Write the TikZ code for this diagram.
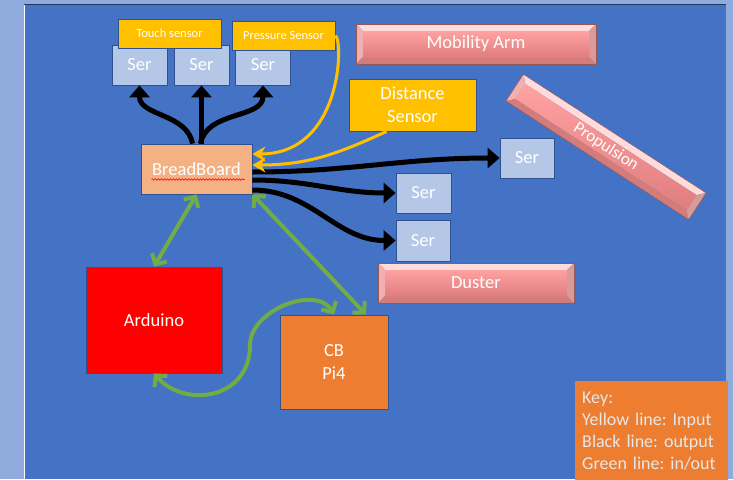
\documentclass[tikz,border=0pt]{standalone}
\usepackage{fontspec}
\setmainfont{Carlito}
\frenchspacing
\usetikzlibrary{arrows.meta,decorations.pathmorphing}

\definecolor{slide}{HTML}{4472C4}
\definecolor{outer}{HTML}{8FAADC}
\definecolor{serfill}{HTML}{B4C7E7}
\definecolor{edge}{HTML}{2F528F}
\definecolor{sensorfill}{HTML}{FFC000}
\definecolor{boardfill}{HTML}{F4B183}
\definecolor{orangefill}{HTML}{ED7D31}
\definecolor{iogreen}{HTML}{70AD47}
\definecolor{bevtop}{HTML}{FFDCDC}
\definecolor{bevside}{HTML}{F2AFAF}
\definecolor{bevlow}{HTML}{D27C7C}
\definecolor{bevright}{HTML}{D99A9A}
\definecolor{faceup}{HTML}{FFA2A2}
\definecolor{facelow}{HTML}{E07E7E}
\definecolor{keytext}{HTML}{E8E8E8}

% half width, half height of a bevelled bar round (0,0)
\newcommand\bevelbar[2]{%
	\fill[bevtop] (-#1,#2) -- (#1,#2) -- (#1-7,#2-7) -- (-#1+7,#2-7) -- cycle;
	\fill[bevside] (-#1,#2) -- (-#1+7,#2-7) -- (-#1+7,-#2+7) -- (-#1,-#2) -- cycle;
	\fill[bevlow] (-#1,-#2) -- (-#1+7,-#2+7) -- (#1-7,-#2+7) -- (#1,-#2) -- cycle;
	\fill[bevright] (#1,#2) -- (#1,-#2) -- (#1-7,-#2+7) -- (#1-7,#2-7) -- cycle;
	\shade[top color=faceup, bottom color=facelow] (-#1+7,#2-7) rectangle (#1-7,-#2+7);
	\draw[bevlow!70!black, line width=0.5pt] (-#1,-#2) rectangle (#1,#2);
}

\tikzset{
	box/.style={draw=edge, line width=0.8pt, inner sep=0pt, text=white, align=center,
		font=\fontsize{18.5}{23}\selectfont},
	serbox/.style={box, fill=serfill, minimum width=55pt, minimum height=40pt},
	sensorbox/.style={box, fill=sensorfill, minimum width=103pt, minimum height=29pt,
		font=\fontsize{12.5}{15}\selectfont},
	bevtext/.style={inner sep=0pt, text=white, font=\fontsize{18.5}{23}\selectfont},
	blk/.style={line width=5pt, -{Triangle[length=12pt,width=20pt]}},
	yel/.style={sensorfill, line width=3pt, -{Stealth[length=13pt,width=15pt]}},
	grn/.style={iogreen, line width=4pt, {Straight Barb[length=8pt,width=17pt]}-{Straight Barb[length=8pt,width=17pt]}}
}

\begin{document}
\begin{tikzpicture}[x=1pt,y=-1pt]

	\useasboundingbox (0,0) rectangle (733,479);
	\fill[outer] (0,0) rectangle (733,479);
	\fill[slide] (24,4) rectangle (726,479);
	\draw[white, line width=1pt] (24,4) -- (24,479);
	\draw[edge!70!black, line width=1pt] (24,4) -- (726,4);

	\node[serbox] (s1) at (139.5,65) {Ser};
	\node[serbox] (s2) at (201.5,65) {Ser};
	\node[serbox] (s3) at (263,65) {Ser};
	\node[sensorbox] (tch) at (169.5,33.5) {Touch sensor};
	\node[sensorbox] (prs) at (283.5,35.5) {Pressure Sensor};

	\begin{scope}[shift={(476,44)}, x=1pt, y=1pt]
		\bevelbar{120}{20}
		\node[bevtext] (mob) at (0,0) {Mobility Arm};
	\end{scope}
	\node[box, fill=sensorfill, minimum width=127pt, minimum height=52pt] (dst) at (412.5,105) {Distance\\Sensor};
	\begin{scope}[shift={(606,147)}, x=1pt, y=1pt, rotate=-33]
		\bevelbar{109}{16}
		\node[bevtext, rotate=-33, font=\fontsize{17}{20}\selectfont] (prop) at (0,0) {Propulsion};
	\end{scope}
	\node[serbox, minimum width=54pt] (sr) at (527,158) {Ser};
	\node[serbox] (sm1) at (423.5,193) {Ser};
	\node[serbox, minimum width=54pt, minimum height=41pt] (sm2) at (423,240.5) {Ser};
	\begin{scope}[shift={(476,283)}, x=1pt, y=1pt]
		\bevelbar{98}{20}
		\node[bevtext] (dus) at (0,0) {Duster};
	\end{scope}

	\node[box, fill=boardfill, minimum width=111pt, minimum height=50pt] (bb) at (196.5,169) {BreadBoard};
	\draw[red, line width=0.6pt, decorate, decoration={snake, amplitude=0.8pt, segment length=3pt}]
		([xshift=-45pt,yshift=-10.5pt]bb.center) -- ([xshift=48pt,yshift=-10.5pt]bb.center);
	\node[box, fill=red, minimum width=136pt, minimum height=106pt] (ard) at (154,320) {Arduino};
	\node[box, fill=orangefill, minimum width=108pt, minimum height=94pt] (cb) at (334,362) {CB\\Pi4};

	\node[fill=orangefill, anchor=north west, minimum width=153pt, minimum height=100pt,
		text width=139pt, inner sep=7pt, align=left, text=keytext,
		font=\fontsize{18}{22}\selectfont] (key) at (575,381)
		{Key:\\Yellow line: Input\\Black line: output\\Green line: in/out};

	\draw[blk] ([xshift=-4pt]bb.north) to[out=100,in=-90] (s1.south);
	\draw[blk] (bb.north -| s2.south) -- (s2.south);
	\draw[blk] ([xshift=4pt]bb.north) to[out=80,in=-90] (s3.south);
	\draw[blk] ([yshift=-3pt]bb.east) to[out=0,in=180] (sr.west);
	\draw[blk] ([yshift=-11pt]bb.east) to[out=0,in=180] (sm1.west);
	\draw[blk] ([yshift=-21pt]bb.east) to[out=0,in=180] (sm2.west);

	\draw[yel] (prs.east) .. controls +(8pt,-5pt) and +(90pt,0pt) .. ([yshift=15pt]bb.east);
	\draw[yel] ([xshift=-26pt]dst.south) to[out=205,in=0] ([yshift=4pt]bb.east);

	\coordinate (bend) at (250,345);
	\draw[grn] (bb.south) -- (ard.north);
	\draw[grn] (bb.south east) -- ([xshift=32pt]cb.north);
	\draw[grn] (ard.south) .. controls +(30pt,-35pt) and +(0pt,-55pt) .. (bend) to[out=90,in=120] (cb.north);

\end{tikzpicture}
\end{document}
